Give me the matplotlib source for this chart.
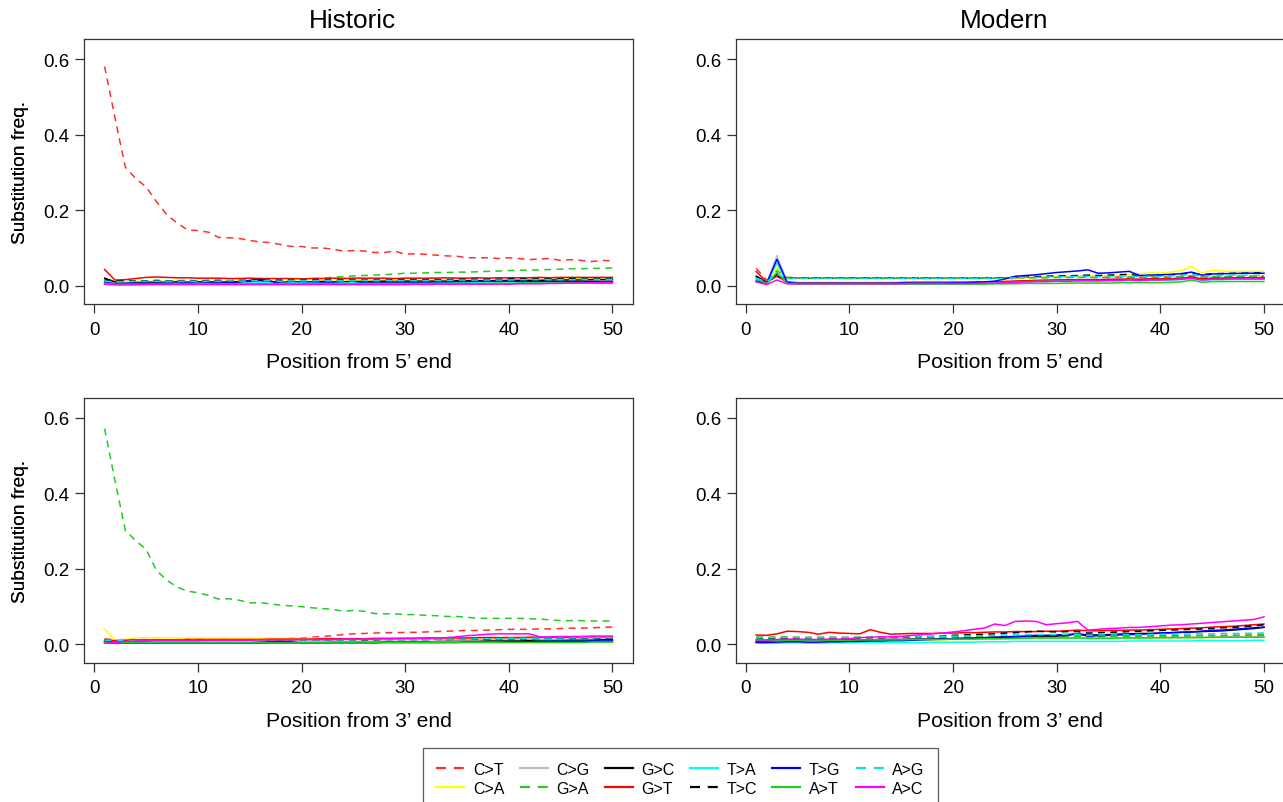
import matplotlib
matplotlib.use("Agg")
import matplotlib.pyplot as plt

plt.rcParams['font.family'] = ['Liberation Sans', 'DejaVu Sans']

positions = list(range(1, 51))
subs = ['C>T', 'C>A', 'C>G', 'G>A', 'G>C', 'G>T', 'T>A', 'T>C', 'T>G', 'A>T', 'A>G', 'A>C']
colors = ['#ff3030', '#ffff00', '#bebebe', '#22cc22', '#000000', '#ff0000',
          '#00ffff', '#000000', '#0000ff', '#22cc22', '#00e5e5', '#ff00ff']
styles = ['dashed', 'solid', 'solid', 'dashed', 'solid', 'solid',
          'solid', 'dashed', 'solid', 'solid', 'dashed', 'solid']
col_titles = ['Historic', 'Modern']
x_labels = ["Position from 5\u2019 end", "Position from 3\u2019 end"]
y_label = 'Substitution freq.'
x_ticks = [0, 10, 20, 30, 40, 50]
y_ticks = [0.0, 0.2, 0.4, 0.6]

# ---------------- Historic, 5' end ----------------
h5_CT = [0.581, 0.445, 0.314, 0.284, 0.262, 0.223, 0.188, 0.166, 0.148, 0.146,
         0.142, 0.128, 0.127, 0.125, 0.120, 0.116, 0.114, 0.109, 0.104, 0.104,
         0.100, 0.100, 0.097, 0.092, 0.093, 0.092, 0.088, 0.088, 0.092, 0.083,
         0.085, 0.083, 0.081, 0.079, 0.078, 0.074, 0.074, 0.074, 0.072, 0.074,
         0.072, 0.069, 0.071, 0.072, 0.067, 0.069, 0.067, 0.064, 0.067, 0.066]
h5_CA = [0.015, 0.008, 0.010, 0.012, 0.012, 0.011, 0.012, 0.012, 0.011, 0.012,
         0.012, 0.011, 0.012, 0.012, 0.013, 0.012, 0.012, 0.011, 0.012, 0.012,
         0.012, 0.013, 0.012, 0.012, 0.013, 0.013, 0.012, 0.013, 0.013, 0.014,
         0.013, 0.014, 0.014, 0.014, 0.015, 0.015, 0.014, 0.015, 0.015, 0.016,
         0.016, 0.016, 0.017, 0.017, 0.018, 0.018, 0.019, 0.020, 0.021, 0.020]
h5_CG = [0.012, 0.006, 0.008, 0.009, 0.009, 0.008, 0.009, 0.009, 0.010, 0.009,
         0.009, 0.010, 0.009, 0.010, 0.009, 0.010, 0.010, 0.009, 0.010, 0.010,
         0.009, 0.010, 0.010, 0.010, 0.011, 0.010, 0.010, 0.011, 0.010, 0.011,
         0.011, 0.010, 0.011, 0.011, 0.011, 0.012, 0.011, 0.011, 0.012, 0.012,
         0.011, 0.012, 0.012, 0.012, 0.012, 0.013, 0.012, 0.013, 0.013, 0.013]
h5_GA = [0.012, 0.010, 0.011, 0.011, 0.012, 0.012, 0.012, 0.013, 0.013, 0.013,
         0.013, 0.014, 0.014, 0.014, 0.015, 0.015, 0.015, 0.016, 0.017, 0.018,
         0.019, 0.020, 0.022, 0.024, 0.026, 0.027, 0.028, 0.029, 0.031, 0.033,
         0.033, 0.034, 0.035, 0.035, 0.036, 0.036, 0.037, 0.038, 0.039, 0.040,
         0.041, 0.041, 0.042, 0.043, 0.044, 0.045, 0.045, 0.046, 0.046, 0.047]
h5_GC = [0.020, 0.010, 0.006, 0.008, 0.009, 0.009, 0.009, 0.010, 0.009, 0.010,
         0.010, 0.009, 0.010, 0.010, 0.011, 0.014, 0.011, 0.009, 0.010, 0.010,
         0.010, 0.011, 0.010, 0.010, 0.011, 0.011, 0.011, 0.012, 0.011, 0.012,
         0.012, 0.012, 0.012, 0.012, 0.013, 0.013, 0.013, 0.013, 0.013, 0.014,
         0.014, 0.014, 0.014, 0.015, 0.015, 0.015, 0.015, 0.016, 0.016, 0.016]
h5_GT = [0.043, 0.015, 0.016, 0.019, 0.022, 0.023, 0.022, 0.021, 0.021, 0.020,
         0.020, 0.020, 0.019, 0.019, 0.020, 0.019, 0.019, 0.019, 0.019, 0.018,
         0.019, 0.019, 0.020, 0.019, 0.020, 0.020, 0.020, 0.020, 0.019, 0.020,
         0.020, 0.020, 0.020, 0.021, 0.020, 0.020, 0.021, 0.020, 0.021, 0.021,
         0.021, 0.021, 0.022, 0.021, 0.022, 0.022, 0.022, 0.022, 0.022, 0.022]
h5_TA = [0.008, 0.006, 0.006, 0.006, 0.006, 0.006, 0.007, 0.006, 0.007, 0.007,
         0.006, 0.007, 0.007, 0.007, 0.007, 0.008, 0.007, 0.007, 0.007, 0.008,
         0.007, 0.007, 0.008, 0.008, 0.008, 0.008, 0.008, 0.008, 0.009, 0.008,
         0.009, 0.009, 0.009, 0.009, 0.009, 0.010, 0.009, 0.010, 0.010, 0.010,
         0.010, 0.010, 0.010, 0.011, 0.011, 0.011, 0.011, 0.011, 0.011, 0.011]
h5_TC = [0.016, 0.012, 0.013, 0.013, 0.013, 0.014, 0.013, 0.013, 0.014, 0.013,
         0.014, 0.014, 0.013, 0.014, 0.014, 0.014, 0.014, 0.014, 0.014, 0.014,
         0.015, 0.015, 0.015, 0.015, 0.015, 0.015, 0.015, 0.015, 0.016, 0.016,
         0.016, 0.016, 0.016, 0.016, 0.017, 0.017, 0.017, 0.017, 0.017, 0.018,
         0.018, 0.018, 0.018, 0.018, 0.018, 0.019, 0.019, 0.019, 0.019, 0.019]
h5_TG = [0.010, 0.005, 0.006, 0.006, 0.006, 0.006, 0.006, 0.006, 0.007, 0.006,
         0.007, 0.007, 0.008, 0.010, 0.014, 0.017, 0.012, 0.006, 0.005, 0.006,
         0.006, 0.007, 0.007, 0.006, 0.005, 0.008, 0.009, 0.008, 0.008, 0.009,
         0.009, 0.009, 0.010, 0.010, 0.011, 0.011, 0.012, 0.012, 0.012, 0.012,
         0.011, 0.011, 0.011, 0.011, 0.011, 0.011, 0.010, 0.011, 0.010, 0.010]
h5_AT = [0.006, 0.004, 0.004, 0.004, 0.004, 0.004, 0.004, 0.005, 0.004, 0.005,
         0.005, 0.004, 0.005, 0.005, 0.005, 0.005, 0.005, 0.005, 0.005, 0.005,
         0.005, 0.005, 0.005, 0.006, 0.005, 0.006, 0.006, 0.006, 0.006, 0.006,
         0.006, 0.006, 0.006, 0.006, 0.006, 0.006, 0.006, 0.006, 0.007, 0.006,
         0.006, 0.007, 0.006, 0.007, 0.007, 0.007, 0.007, 0.007, 0.006, 0.007]
h5_AG = [0.012, 0.010, 0.011, 0.012, 0.012, 0.012, 0.012, 0.012, 0.012, 0.012,
         0.012, 0.012, 0.013, 0.012, 0.013, 0.013, 0.013, 0.012, 0.013, 0.013,
         0.013, 0.013, 0.013, 0.013, 0.013, 0.014, 0.013, 0.014, 0.014, 0.014,
         0.014, 0.014, 0.014, 0.014, 0.015, 0.015, 0.015, 0.015, 0.015, 0.015,
         0.016, 0.016, 0.016, 0.016, 0.016, 0.016, 0.017, 0.017, 0.017, 0.017]
h5_AC = [0.004, 0.002, 0.002, 0.002, 0.003, 0.003, 0.003, 0.003, 0.003, 0.003,
         0.003, 0.003, 0.003, 0.003, 0.003, 0.003, 0.003, 0.003, 0.003, 0.003,
         0.003, 0.003, 0.003, 0.003, 0.003, 0.003, 0.003, 0.003, 0.003, 0.003,
         0.004, 0.003, 0.004, 0.004, 0.004, 0.004, 0.004, 0.004, 0.004, 0.004,
         0.005, 0.005, 0.005, 0.006, 0.006, 0.007, 0.007, 0.008, 0.008, 0.008]

# ---------------- Modern, 5' end ----------------
m5_CT = [0.046, 0.015, 0.030, 0.022, 0.021, 0.021, 0.021, 0.021, 0.021, 0.021,
         0.021, 0.021, 0.021, 0.021, 0.021, 0.020, 0.021, 0.021, 0.020, 0.021,
         0.021, 0.020, 0.021, 0.021, 0.021, 0.021, 0.022, 0.022, 0.022, 0.022,
         0.022, 0.022, 0.023, 0.022, 0.023, 0.023, 0.023, 0.022, 0.023, 0.023,
         0.024, 0.024, 0.026, 0.023, 0.024, 0.024, 0.025, 0.025, 0.025, 0.025]
m5_CA = [0.020, 0.006, 0.050, 0.010, 0.008, 0.008, 0.008, 0.008, 0.008, 0.008,
         0.008, 0.008, 0.008, 0.008, 0.009, 0.009, 0.009, 0.009, 0.009, 0.009,
         0.009, 0.010, 0.010, 0.011, 0.013, 0.018, 0.021, 0.023, 0.024, 0.025,
         0.026, 0.026, 0.027, 0.026, 0.027, 0.028, 0.030, 0.032, 0.034, 0.034,
         0.036, 0.040, 0.051, 0.034, 0.041, 0.039, 0.038, 0.038, 0.038, 0.038]
m5_CG = [0.018, 0.006, 0.080, 0.010, 0.007, 0.007, 0.007, 0.007, 0.007, 0.007,
         0.007, 0.007, 0.008, 0.008, 0.008, 0.008, 0.008, 0.008, 0.008, 0.008,
         0.008, 0.009, 0.009, 0.009, 0.010, 0.012, 0.013, 0.014, 0.014, 0.015,
         0.015, 0.016, 0.016, 0.015, 0.016, 0.016, 0.017, 0.016, 0.017, 0.017,
         0.018, 0.019, 0.022, 0.017, 0.019, 0.019, 0.020, 0.020, 0.020, 0.020]
m5_GA = [0.022, 0.010, 0.040, 0.020, 0.020, 0.020, 0.019, 0.020, 0.020, 0.019,
         0.020, 0.020, 0.019, 0.020, 0.020, 0.020, 0.019, 0.020, 0.020, 0.020,
         0.020, 0.020, 0.020, 0.020, 0.020, 0.021, 0.021, 0.021, 0.021, 0.022,
         0.022, 0.022, 0.022, 0.021, 0.022, 0.022, 0.023, 0.022, 0.023, 0.023,
         0.023, 0.024, 0.026, 0.022, 0.024, 0.024, 0.025, 0.025, 0.025, 0.025]
m5_GC = [0.025, 0.008, 0.030, 0.008, 0.007, 0.007, 0.007, 0.007, 0.007, 0.007,
         0.007, 0.007, 0.007, 0.007, 0.008, 0.008, 0.008, 0.008, 0.008, 0.008,
         0.008, 0.008, 0.009, 0.009, 0.010, 0.011, 0.012, 0.013, 0.014, 0.014,
         0.015, 0.015, 0.016, 0.015, 0.016, 0.016, 0.017, 0.016, 0.017, 0.017,
         0.018, 0.019, 0.022, 0.017, 0.019, 0.019, 0.020, 0.020, 0.020, 0.020]
m5_GT = [0.038, 0.010, 0.025, 0.010, 0.008, 0.008, 0.008, 0.008, 0.008, 0.008,
         0.008, 0.008, 0.008, 0.008, 0.008, 0.009, 0.009, 0.009, 0.009, 0.009,
         0.009, 0.009, 0.010, 0.010, 0.011, 0.012, 0.013, 0.014, 0.014, 0.015,
         0.015, 0.016, 0.016, 0.016, 0.017, 0.017, 0.017, 0.017, 0.018, 0.018,
         0.019, 0.019, 0.023, 0.018, 0.020, 0.020, 0.021, 0.021, 0.021, 0.022]
m5_TA = [0.015, 0.006, 0.060, 0.008, 0.006, 0.006, 0.006, 0.006, 0.006, 0.006,
         0.006, 0.006, 0.006, 0.006, 0.006, 0.006, 0.006, 0.007, 0.007, 0.007,
         0.007, 0.007, 0.007, 0.008, 0.008, 0.009, 0.010, 0.011, 0.011, 0.012,
         0.012, 0.013, 0.013, 0.012, 0.013, 0.013, 0.014, 0.013, 0.014, 0.014,
         0.015, 0.016, 0.019, 0.014, 0.016, 0.016, 0.017, 0.017, 0.017, 0.017]
m5_TC = [0.025, 0.010, 0.025, 0.020, 0.020, 0.020, 0.020, 0.020, 0.020, 0.020,
         0.020, 0.020, 0.020, 0.020, 0.020, 0.020, 0.020, 0.020, 0.020, 0.020,
         0.020, 0.020, 0.020, 0.020, 0.021, 0.022, 0.023, 0.024, 0.025, 0.026,
         0.026, 0.027, 0.028, 0.027, 0.028, 0.029, 0.030, 0.026, 0.027, 0.028,
         0.029, 0.031, 0.034, 0.029, 0.032, 0.032, 0.033, 0.033, 0.034, 0.034]
m5_TG = [0.012, 0.006, 0.070, 0.008, 0.006, 0.006, 0.006, 0.006, 0.006, 0.006,
         0.006, 0.006, 0.006, 0.006, 0.007, 0.007, 0.007, 0.007, 0.007, 0.008,
         0.008, 0.009, 0.010, 0.012, 0.018, 0.025, 0.027, 0.029, 0.032, 0.035,
         0.037, 0.039, 0.042, 0.033, 0.034, 0.036, 0.038, 0.027, 0.028, 0.029,
         0.030, 0.032, 0.036, 0.028, 0.031, 0.032, 0.032, 0.033, 0.033, 0.033]
m5_AT = [0.020, 0.005, 0.035, 0.006, 0.004, 0.004, 0.004, 0.004, 0.004, 0.004,
         0.004, 0.004, 0.004, 0.004, 0.004, 0.004, 0.004, 0.004, 0.004, 0.004,
         0.004, 0.004, 0.004, 0.005, 0.005, 0.005, 0.006, 0.006, 0.006, 0.006,
         0.007, 0.007, 0.007, 0.007, 0.007, 0.008, 0.008, 0.008, 0.008, 0.008,
         0.009, 0.010, 0.015, 0.009, 0.011, 0.011, 0.011, 0.011, 0.011, 0.011]
m5_AG = [0.020, 0.010, 0.030, 0.019, 0.019, 0.019, 0.019, 0.019, 0.019, 0.019,
         0.019, 0.019, 0.019, 0.019, 0.019, 0.019, 0.019, 0.019, 0.019, 0.019,
         0.019, 0.019, 0.019, 0.019, 0.020, 0.021, 0.022, 0.022, 0.023, 0.024,
         0.024, 0.025, 0.025, 0.024, 0.025, 0.025, 0.026, 0.024, 0.025, 0.025,
         0.026, 0.027, 0.030, 0.025, 0.027, 0.027, 0.028, 0.028, 0.028, 0.028]
m5_AC = [0.010, 0.003, 0.015, 0.005, 0.005, 0.005, 0.005, 0.005, 0.005, 0.005,
         0.005, 0.005, 0.005, 0.005, 0.005, 0.006, 0.006, 0.006, 0.006, 0.006,
         0.006, 0.006, 0.007, 0.007, 0.008, 0.009, 0.010, 0.011, 0.011, 0.012,
         0.012, 0.013, 0.013, 0.013, 0.014, 0.014, 0.015, 0.014, 0.015, 0.015,
         0.016, 0.017, 0.020, 0.015, 0.017, 0.017, 0.018, 0.018, 0.018, 0.018]

# ---------------- Historic, 3' end ----------------
h3_CT = [0.015, 0.012, 0.013, 0.013, 0.013, 0.013, 0.013, 0.013, 0.013, 0.013,
         0.013, 0.013, 0.014, 0.014, 0.014, 0.014, 0.015, 0.015, 0.016, 0.017,
         0.019, 0.021, 0.023, 0.026, 0.028, 0.029, 0.030, 0.031, 0.031, 0.032,
         0.032, 0.033, 0.034, 0.035, 0.036, 0.037, 0.037, 0.038, 0.039, 0.040,
         0.040, 0.040, 0.041, 0.041, 0.042, 0.043, 0.043, 0.044, 0.045, 0.046]
h3_CA = [0.040, 0.012, 0.013, 0.018, 0.018, 0.017, 0.017, 0.017, 0.016, 0.016,
         0.016, 0.016, 0.016, 0.016, 0.016, 0.016, 0.016, 0.015, 0.016, 0.016,
         0.016, 0.016, 0.016, 0.016, 0.016, 0.016, 0.016, 0.016, 0.017, 0.016,
         0.017, 0.017, 0.017, 0.017, 0.017, 0.017, 0.017, 0.018, 0.018, 0.018,
         0.018, 0.018, 0.018, 0.019, 0.019, 0.019, 0.019, 0.020, 0.020, 0.020]
h3_CG = [0.012, 0.008, 0.009, 0.010, 0.010, 0.010, 0.010, 0.010, 0.010, 0.010,
         0.010, 0.010, 0.010, 0.010, 0.011, 0.011, 0.011, 0.011, 0.011, 0.011,
         0.011, 0.011, 0.011, 0.012, 0.012, 0.012, 0.012, 0.012, 0.012, 0.012,
         0.012, 0.012, 0.013, 0.013, 0.013, 0.013, 0.013, 0.013, 0.013, 0.014,
         0.014, 0.014, 0.014, 0.014, 0.014, 0.015, 0.015, 0.015, 0.015, 0.015]
h3_GA = [0.572, 0.434, 0.302, 0.275, 0.252, 0.196, 0.170, 0.152, 0.141, 0.137,
         0.130, 0.120, 0.121, 0.117, 0.110, 0.111, 0.107, 0.104, 0.102, 0.100,
         0.097, 0.095, 0.093, 0.088, 0.090, 0.088, 0.082, 0.081, 0.081, 0.079,
         0.079, 0.077, 0.076, 0.074, 0.074, 0.072, 0.069, 0.069, 0.069, 0.069,
         0.069, 0.068, 0.067, 0.065, 0.063, 0.063, 0.063, 0.062, 0.062, 0.062]
h3_GC = [0.008, 0.006, 0.006, 0.006, 0.006, 0.005, 0.005, 0.005, 0.005, 0.005,
         0.005, 0.005, 0.005, 0.005, 0.005, 0.006, 0.007, 0.008, 0.007, 0.005,
         0.005, 0.005, 0.006, 0.006, 0.006, 0.006, 0.006, 0.007, 0.007, 0.007,
         0.007, 0.007, 0.007, 0.008, 0.008, 0.008, 0.008, 0.009, 0.009, 0.009,
         0.009, 0.010, 0.010, 0.010, 0.010, 0.011, 0.011, 0.011, 0.012, 0.012]
h3_GT = [0.012, 0.010, 0.011, 0.012, 0.012, 0.012, 0.012, 0.012, 0.013, 0.013,
         0.013, 0.013, 0.013, 0.013, 0.013, 0.013, 0.014, 0.014, 0.014, 0.014,
         0.014, 0.015, 0.015, 0.015, 0.015, 0.015, 0.016, 0.016, 0.016, 0.016,
         0.016, 0.017, 0.017, 0.017, 0.017, 0.017, 0.018, 0.018, 0.018, 0.018,
         0.018, 0.019, 0.019, 0.019, 0.019, 0.019, 0.020, 0.020, 0.020, 0.020]
h3_TA = [0.006, 0.005, 0.005, 0.005, 0.005, 0.005, 0.005, 0.005, 0.005, 0.005,
         0.005, 0.005, 0.005, 0.005, 0.005, 0.005, 0.005, 0.005, 0.005, 0.006,
         0.006, 0.006, 0.006, 0.006, 0.006, 0.006, 0.006, 0.006, 0.006, 0.006,
         0.006, 0.006, 0.007, 0.007, 0.007, 0.007, 0.007, 0.007, 0.007, 0.007,
         0.007, 0.007, 0.008, 0.008, 0.008, 0.008, 0.008, 0.008, 0.008, 0.008]
h3_TC = [0.010, 0.009, 0.010, 0.011, 0.011, 0.011, 0.011, 0.011, 0.011, 0.011,
         0.011, 0.011, 0.011, 0.011, 0.011, 0.011, 0.011, 0.011, 0.012, 0.012,
         0.012, 0.012, 0.012, 0.012, 0.012, 0.012, 0.012, 0.013, 0.013, 0.013,
         0.013, 0.013, 0.013, 0.013, 0.014, 0.014, 0.014, 0.014, 0.015, 0.015,
         0.015, 0.015, 0.016, 0.016, 0.016, 0.016, 0.017, 0.017, 0.017, 0.017]
h3_TG = [0.004, 0.003, 0.003, 0.003, 0.003, 0.003, 0.003, 0.003, 0.003, 0.003,
         0.003, 0.003, 0.003, 0.003, 0.003, 0.003, 0.004, 0.004, 0.004, 0.004,
         0.004, 0.004, 0.004, 0.004, 0.004, 0.004, 0.004, 0.005, 0.005, 0.005,
         0.005, 0.005, 0.005, 0.005, 0.005, 0.006, 0.006, 0.006, 0.006, 0.007,
         0.007, 0.007, 0.007, 0.008, 0.008, 0.008, 0.008, 0.009, 0.009, 0.009]
h3_AT = [0.005, 0.004, 0.004, 0.004, 0.004, 0.004, 0.004, 0.004, 0.004, 0.004,
         0.004, 0.004, 0.004, 0.004, 0.004, 0.004, 0.004, 0.004, 0.004, 0.004,
         0.004, 0.004, 0.004, 0.004, 0.004, 0.004, 0.005, 0.005, 0.005, 0.005,
         0.005, 0.005, 0.005, 0.005, 0.005, 0.005, 0.005, 0.005, 0.005, 0.005,
         0.005, 0.005, 0.005, 0.005, 0.005, 0.005, 0.005, 0.006, 0.006, 0.006]
h3_AG = [0.011, 0.010, 0.010, 0.011, 0.011, 0.011, 0.011, 0.011, 0.011, 0.011,
         0.011, 0.011, 0.011, 0.011, 0.011, 0.011, 0.012, 0.012, 0.012, 0.012,
         0.012, 0.012, 0.012, 0.012, 0.012, 0.013, 0.013, 0.013, 0.013, 0.013,
         0.013, 0.013, 0.014, 0.014, 0.014, 0.014, 0.015, 0.015, 0.015, 0.016,
         0.016, 0.016, 0.017, 0.017, 0.017, 0.017, 0.018, 0.018, 0.018, 0.018]
h3_AC = [0.003, 0.005, 0.008, 0.009, 0.010, 0.010, 0.010, 0.010, 0.010, 0.010,
         0.011, 0.011, 0.011, 0.011, 0.011, 0.012, 0.012, 0.012, 0.012, 0.013,
         0.013, 0.013, 0.013, 0.014, 0.014, 0.014, 0.014, 0.015, 0.015, 0.016,
         0.016, 0.016, 0.017, 0.018, 0.020, 0.023, 0.025, 0.027, 0.028, 0.028,
         0.028, 0.028, 0.020, 0.020, 0.021, 0.021, 0.021, 0.022, 0.022, 0.022]

# ---------------- Modern, 3' end ----------------
m3_CT = [0.018, 0.017, 0.018, 0.018, 0.018, 0.017, 0.018, 0.018, 0.018, 0.018,
         0.018, 0.018, 0.018, 0.018, 0.018, 0.019, 0.019, 0.019, 0.019, 0.019,
         0.019, 0.020, 0.020, 0.020, 0.020, 0.021, 0.021, 0.021, 0.021, 0.021,
         0.021, 0.022, 0.022, 0.022, 0.022, 0.022, 0.022, 0.023, 0.023, 0.023,
         0.023, 0.023, 0.023, 0.024, 0.024, 0.024, 0.024, 0.024, 0.025, 0.025]
m3_CA = [0.010, 0.009, 0.010, 0.010, 0.010, 0.010, 0.010, 0.010, 0.010, 0.010,
         0.011, 0.011, 0.011, 0.011, 0.011, 0.012, 0.012, 0.012, 0.012, 0.013,
         0.013, 0.013, 0.014, 0.014, 0.015, 0.015, 0.016, 0.016, 0.016, 0.016,
         0.016, 0.016, 0.015, 0.015, 0.016, 0.016, 0.016, 0.017, 0.017, 0.017,
         0.017, 0.018, 0.018, 0.018, 0.018, 0.019, 0.019, 0.019, 0.020, 0.020]
m3_CG = [0.012, 0.011, 0.011, 0.012, 0.012, 0.012, 0.012, 0.012, 0.012, 0.012,
         0.012, 0.012, 0.013, 0.013, 0.013, 0.013, 0.013, 0.014, 0.014, 0.014,
         0.014, 0.015, 0.015, 0.015, 0.016, 0.016, 0.017, 0.017, 0.017, 0.017,
         0.017, 0.017, 0.016, 0.016, 0.017, 0.017, 0.017, 0.018, 0.018, 0.018,
         0.018, 0.018, 0.019, 0.019, 0.019, 0.019, 0.020, 0.020, 0.020, 0.020]
m3_GA = [0.020, 0.019, 0.020, 0.020, 0.019, 0.019, 0.019, 0.019, 0.019, 0.019,
         0.019, 0.019, 0.019, 0.019, 0.019, 0.019, 0.019, 0.020, 0.020, 0.020,
         0.020, 0.020, 0.020, 0.020, 0.021, 0.021, 0.021, 0.021, 0.021, 0.021,
         0.021, 0.021, 0.020, 0.020, 0.021, 0.021, 0.021, 0.021, 0.022, 0.022,
         0.022, 0.022, 0.023, 0.023, 0.023, 0.023, 0.024, 0.024, 0.024, 0.025]
m3_GC = [0.008, 0.008, 0.010, 0.012, 0.012, 0.011, 0.011, 0.011, 0.012, 0.012,
         0.012, 0.012, 0.013, 0.013, 0.013, 0.014, 0.014, 0.014, 0.015, 0.015,
         0.016, 0.016, 0.017, 0.018, 0.019, 0.020, 0.021, 0.022, 0.022, 0.022,
         0.024, 0.028, 0.025, 0.025, 0.026, 0.027, 0.028, 0.029, 0.029, 0.030,
         0.031, 0.032, 0.033, 0.034, 0.035, 0.036, 0.038, 0.040, 0.042, 0.045]
m3_GT = [0.025, 0.024, 0.028, 0.035, 0.034, 0.032, 0.027, 0.032, 0.030, 0.029,
         0.028, 0.039, 0.032, 0.027, 0.028, 0.029, 0.029, 0.029, 0.030, 0.030,
         0.031, 0.031, 0.032, 0.033, 0.033, 0.034, 0.034, 0.034, 0.035, 0.035,
         0.036, 0.038, 0.036, 0.036, 0.037, 0.037, 0.038, 0.038, 0.039, 0.040,
         0.041, 0.042, 0.043, 0.044, 0.046, 0.047, 0.048, 0.050, 0.052, 0.054]
m3_TA = [0.004, 0.003, 0.003, 0.004, 0.004, 0.003, 0.003, 0.004, 0.004, 0.004,
         0.005, 0.005, 0.005, 0.005, 0.005, 0.005, 0.005, 0.006, 0.006, 0.006,
         0.006, 0.006, 0.007, 0.007, 0.007, 0.008, 0.008, 0.008, 0.008, 0.008,
         0.008, 0.008, 0.008, 0.008, 0.008, 0.008, 0.009, 0.009, 0.009, 0.009,
         0.009, 0.009, 0.009, 0.010, 0.010, 0.010, 0.010, 0.010, 0.011, 0.011]
m3_TC = [0.018, 0.015, 0.015, 0.016, 0.015, 0.015, 0.015, 0.016, 0.016, 0.017,
         0.017, 0.018, 0.018, 0.019, 0.019, 0.020, 0.021, 0.021, 0.022, 0.024,
         0.025, 0.026, 0.027, 0.028, 0.030, 0.031, 0.033, 0.035, 0.034, 0.033,
         0.034, 0.034, 0.030, 0.031, 0.032, 0.033, 0.034, 0.035, 0.036, 0.037,
         0.038, 0.039, 0.040, 0.041, 0.042, 0.044, 0.045, 0.047, 0.049, 0.052]
m3_TG = [0.005, 0.005, 0.006, 0.007, 0.007, 0.006, 0.006, 0.007, 0.007, 0.008,
         0.008, 0.009, 0.009, 0.010, 0.010, 0.011, 0.012, 0.013, 0.014, 0.015,
         0.016, 0.017, 0.018, 0.019, 0.020, 0.021, 0.022, 0.024, 0.024, 0.025,
         0.026, 0.028, 0.022, 0.023, 0.024, 0.025, 0.026, 0.027, 0.028, 0.030,
         0.031, 0.032, 0.033, 0.035, 0.037, 0.038, 0.040, 0.042, 0.044, 0.046]
m3_AT = [0.010, 0.010, 0.010, 0.011, 0.011, 0.011, 0.011, 0.011, 0.011, 0.011,
         0.012, 0.012, 0.012, 0.012, 0.012, 0.013, 0.013, 0.013, 0.013, 0.014,
         0.014, 0.014, 0.015, 0.015, 0.015, 0.016, 0.016, 0.017, 0.017, 0.017,
         0.017, 0.017, 0.016, 0.016, 0.016, 0.017, 0.017, 0.017, 0.017, 0.018,
         0.018, 0.018, 0.018, 0.018, 0.019, 0.019, 0.019, 0.019, 0.019, 0.019]
m3_AG = [0.018, 0.017, 0.018, 0.018, 0.018, 0.017, 0.017, 0.018, 0.018, 0.018,
         0.018, 0.019, 0.019, 0.019, 0.020, 0.020, 0.020, 0.021, 0.021, 0.022,
         0.022, 0.023, 0.023, 0.024, 0.025, 0.025, 0.026, 0.026, 0.026, 0.026,
         0.027, 0.027, 0.024, 0.025, 0.025, 0.025, 0.026, 0.026, 0.026, 0.027,
         0.027, 0.027, 0.028, 0.028, 0.028, 0.029, 0.029, 0.029, 0.030, 0.030]
m3_AC = [0.012, 0.012, 0.013, 0.014, 0.014, 0.013, 0.013, 0.014, 0.014, 0.015,
         0.018, 0.019, 0.020, 0.020, 0.021, 0.024, 0.026, 0.028, 0.030, 0.033,
         0.036, 0.040, 0.043, 0.054, 0.050, 0.061, 0.062, 0.061, 0.052, 0.055,
         0.057, 0.061, 0.038, 0.040, 0.042, 0.043, 0.045, 0.045, 0.047, 0.049,
         0.051, 0.052, 0.054, 0.056, 0.058, 0.060, 0.062, 0.064, 0.066, 0.073]

panels = [
    [h5_CT, h5_CA, h5_CG, h5_GA, h5_GC, h5_GT, h5_TA, h5_TC, h5_TG, h5_AT, h5_AG, h5_AC],
    [m5_CT, m5_CA, m5_CG, m5_GA, m5_GC, m5_GT, m5_TA, m5_TC, m5_TG, m5_AT, m5_AG, m5_AC],
    [h3_CT, h3_CA, h3_CG, h3_GA, h3_GC, h3_GT, h3_TA, h3_TC, h3_TG, h3_AT, h3_AG, h3_AC],
    [m3_CT, m3_CA, m3_CG, m3_GA, m3_GC, m3_GT, m3_TA, m3_TC, m3_TG, m3_AT, m3_AG, m3_AC],
]

W, H = 1283, 803
fig = plt.figure(figsize=(W / 100, H / 100), dpi=100)

ax_w = 548.4
ax_h = 264.7
lefts = [84.3, 735.9]
tops = [40.3, 399.0]
spine_col = '#333333'

handles = []
for idx, series in enumerate(panels):
    r, c = divmod(idx, 2)
    ax = fig.add_axes([lefts[c] / W, 1 - (tops[r] + ax_h) / H, ax_w / W, ax_h / H])
    for k, vals in enumerate(series):
        ls = (0, (4.5, 3.5)) if styles[k] == 'dashed' else '-'
        ln, = ax.plot(positions, vals, color=colors[k], linestyle=ls, lw=1.1,
                      label=subs[k])
        if idx == 0:
            handles.append(ln)
    ax.set_xlim(-0.96, 51.96)
    ax.set_ylim(-0.0485, 0.653)
    ax.set_xticks(x_ticks)
    ax.set_yticks(y_ticks)
    ax.set_yticklabels([f'{v:.1f}' for v in y_ticks])
    ax.tick_params(direction='out', length=6.5, width=0.9, color=spine_col,
                   labelsize=13.5)
    ax.tick_params(axis='x', pad=5.5)
    ax.tick_params(axis='y', pad=4)
    for sp in ax.spines.values():
        sp.set_color(spine_col)
        sp.set_linewidth(0.9)
    ax.set_xlabel(x_labels[r], fontsize=15.2)
    ax.xaxis.label.set_va('center')
    ax.xaxis.set_label_coords(0.5, -58.0 / ax_h)
    ax.set_ylabel(y_label, fontsize=13.8)
    ax.yaxis.label.set_va('center')
    ax.yaxis.set_label_coords((20.5 - lefts[c]) / ax_w, 0.5)
    if r == 0:
        ax.set_title(col_titles[c], fontsize=18.8, pad=9.0, x=0.5 - 6.0 / ax_w)

leg = fig.legend(handles=handles, labels=subs, ncol=6, loc='upper left',
                 bbox_to_anchor=(422.7 / W, 1 - 749 / H), borderaxespad=0,
                 fontsize=11.5, frameon=True, fancybox=False, edgecolor='#333333',
                 handlelength=1.75, handletextpad=0.55, columnspacing=0.95,
                 labelspacing=0.28, borderpad=0.85)
leg.get_frame().set_linewidth(0.9)
for ln in leg.get_lines():
    ln.set_linewidth(1.6)

fig.savefig('out.png', dpi=100)
